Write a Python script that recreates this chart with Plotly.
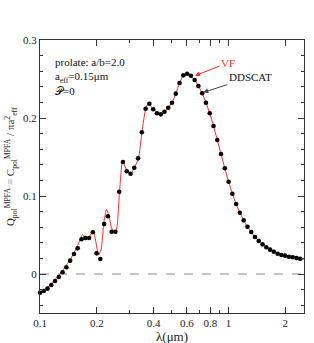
import plotly.graph_objects as go

# DDSCAT points (wavelength in micron, Q_pol)
lam_dd = [0.1, 0.1047, 0.1096, 0.1148, 0.1202, 0.1259, 0.1318, 0.138, 0.1445, 0.1514,
          0.1585, 0.166, 0.1738, 0.182, 0.1905, 0.1995, 0.2089, 0.2188, 0.2291, 0.2399,
          0.2512, 0.263, 0.2754, 0.2884, 0.302, 0.3162, 0.3311, 0.3467, 0.3631, 0.3802,
          0.3981, 0.4169, 0.4365, 0.4571, 0.4786, 0.5012, 0.5248, 0.5495, 0.5754, 0.6026,
          0.631, 0.6607, 0.6918, 0.7244, 0.7586, 0.7943, 0.8318, 0.871, 0.912, 0.955,
          1.0, 1.047, 1.096, 1.148, 1.202, 1.259, 1.318, 1.38, 1.445, 1.514,
          1.585, 1.66, 1.738, 1.82, 1.905, 1.995, 2.089, 2.188, 2.291, 2.399]
q_dd = [-0.0240, -0.0218, -0.0188, -0.0141, -0.0090, -0.0038, 0.0022, 0.0086, 0.0171, 0.0256,
        0.0329, 0.0445, 0.0462, 0.0462, 0.0535, 0.0265, 0.0192, 0.0641, 0.0740, 0.0542,
        0.0542, 0.1053, 0.1436, 0.1317, 0.1286, 0.1363, 0.1483, 0.1817, 0.2119, 0.2183,
        0.2112, 0.2060, 0.2047, 0.2081, 0.2132, 0.2196, 0.2312, 0.2449, 0.2547, 0.2568,
        0.2542, 0.2487, 0.2410, 0.2317, 0.2196, 0.2060, 0.1897, 0.1718, 0.1538, 0.1355,
        0.1183, 0.1029, 0.0897, 0.0786, 0.0688, 0.0606, 0.0538, 0.0474, 0.0423, 0.0380,
        0.0342, 0.0312, 0.0286, 0.0260, 0.0244, 0.0235, 0.0222, 0.0214, 0.0205, 0.0196]

# VF curve
lam_vf = [0.1, 0.1063, 0.1130, 0.1201, 0.1276, 0.1357, 0.1442, 0.1533, 0.1630, 0.1680,
          0.1733, 0.1797, 0.1864, 0.1917, 0.1970, 0.2043, 0.2106, 0.2184, 0.2252, 0.2322,
          0.2394, 0.2468, 0.2545, 0.2640, 0.2738, 0.2806, 0.2893, 0.3019, 0.3170, 0.3329,
          0.3474, 0.3635, 0.3761, 0.3973,
          0.4365, 0.4571, 0.4786, 0.5012, 0.5248, 0.5495, 0.5754, 0.6026,
          0.631, 0.6607, 0.6918, 0.7244, 0.7586, 0.7943, 0.8318, 0.871, 0.912, 0.955,
          1.0, 1.047, 1.096, 1.148, 1.202, 1.259, 1.318, 1.38, 1.445, 1.514,
          1.585, 1.66, 1.738, 1.82, 1.905, 1.995, 2.089, 2.188, 2.291, 2.399, 2.51]
q_vf = [-0.0237, -0.0192, -0.0141, -0.0071, 0.0000, 0.0090, 0.0179, 0.0295, 0.0436, 0.0506,
        0.0474, 0.0455, 0.0513, 0.0564, 0.0436, 0.0244, 0.0308, 0.0667, 0.0827, 0.0744,
        0.0590, 0.0538, 0.0577, 0.1051, 0.1436, 0.1397, 0.1321, 0.1282, 0.1365, 0.1487,
        0.1821, 0.2119, 0.2192, 0.2115,
        0.2047, 0.2081, 0.2132, 0.2196, 0.2312, 0.2449, 0.2547, 0.2568,
        0.2542, 0.2487, 0.2410, 0.2317, 0.2196, 0.2060, 0.1897, 0.1718, 0.1538, 0.1355,
        0.1183, 0.1029, 0.0897, 0.0786, 0.0688, 0.0606, 0.0538, 0.0474, 0.0423, 0.0380,
        0.0342, 0.0312, 0.0286, 0.0260, 0.0244, 0.0235, 0.0222, 0.0214, 0.0205, 0.0196, 0.0190]

x_ticks = [0.1, 0.2, 0.4, 0.6, 0.8, 1, 2]
x_ticktext = ["0.1", "0.2", "0.4", "0.6", "0.8", "1", "2"]
x_minor = [0.3, 0.5, 0.7, 0.9]
y_ticks = [0, 0.1, 0.2, 0.3]
y_ticktext = ["0", "0.1", "0.2", "0.3"]

SERIF = "Liberation Serif, DejaVu Serif, serif"

fig = go.Figure()
fig.add_trace(go.Scatter(x=[0.1, 2.51], y=[0, 0], mode="lines",
                         line=dict(color="#8a8a8a", width=1, dash="dash"),
                         hoverinfo="skip", showlegend=False))
fig.add_trace(go.Scatter(x=lam_vf, y=q_vf, mode="lines",
                         line=dict(color="#ff2a2a", width=1, shape="spline", smoothing=0.6),
                         showlegend=False))
fig.add_trace(go.Scatter(x=lam_dd, y=q_dd, mode="markers",
                         marker=dict(color="black", size=4.6),
                         cliponaxis=False, showlegend=False))

axis_common = dict(showline=True, linecolor="#333", linewidth=1, mirror="ticks",
                   ticks="inside", tickcolor="#333", ticklen=6, tickwidth=1,
                   showgrid=False, zeroline=False, automargin=False,
                   tickfont=dict(family=SERIF, size=11, color="#222"))

fig.update_xaxes(type="log", range=[-1, 0.3998], tickmode="array",
                 tickvals=x_ticks, ticktext=x_ticktext,
                 minor=dict(tickmode="array", tickvals=x_minor, ticks="inside",
                            ticklen=3, tickcolor="#333"),
                 **axis_common)
fig.update_yaxes(range=[-0.05, 0.3], tickmode="array", tickvals=y_ticks,
                 ticktext=y_ticktext,
                 minor=dict(dtick=0.02, tick0=0, ticks="inside", ticklen=3, tickcolor="#333"),
                 **axis_common)

fig.add_annotation(xref="paper", yref="paper", x=0.05, y=0.95, xanchor="left", yanchor="top",
                   align="left", showarrow=False,
                   text="prolate: a/b=2.0<br>a<sub>eff</sub>=0.15μm<br>𝒫=0",
                   font=dict(family=SERIF, size=11, color="#111"))
fig.add_annotation(xref="paper", yref="paper", x=-0.11, y=0.538, xanchor="center",
                   yanchor="middle", textangle=-90, showarrow=False,
                   text="Q<sub>pol</sub><sup>MPFA</sup> <span style='color:#999'>≡</span> "
                        "C<sub>pol</sub><sup>MPFA</sup> / πa<sup>2</sup><sub>eff</sub>",
                   font=dict(family=SERIF, size=11, color="#222"))
fig.add_annotation(xref="paper", yref="paper", x=0.5, y=-0.086, xanchor="center",
                   yanchor="middle", showarrow=False, text="λ(μm)",
                   font=dict(family=SERIF, size=13, color="#222"))
fig.add_annotation(x=-0.1783, y=0.2542, xref="x", yref="y", text="VF", showarrow=True,
                   ax=33, ay=-13, arrowhead=2, arrowsize=1, arrowwidth=1,
                   arrowcolor="#ff2a2a", font=dict(family=SERIF, size=11, color="#ff2a2a"))
fig.add_annotation(x=-0.1341, y=0.2329, xref="x", yref="y", text="DDSCAT", showarrow=True,
                   ax=47, ay=-15, arrowhead=2, arrowsize=1, arrowwidth=1,
                   arrowcolor="#444", font=dict(family=SERIF, size=11, color="#111"))

fig.update_layout(width=314, height=343, margin=dict(l=40, r=10, t=40, b=30, autoexpand=False),
                  plot_bgcolor="white", paper_bgcolor="white", showlegend=False)
fig.write_html("out.html", config={"displayModeBar": False},
               post_script="document.body.style.margin='0';document.body.style.overflow='hidden';")
